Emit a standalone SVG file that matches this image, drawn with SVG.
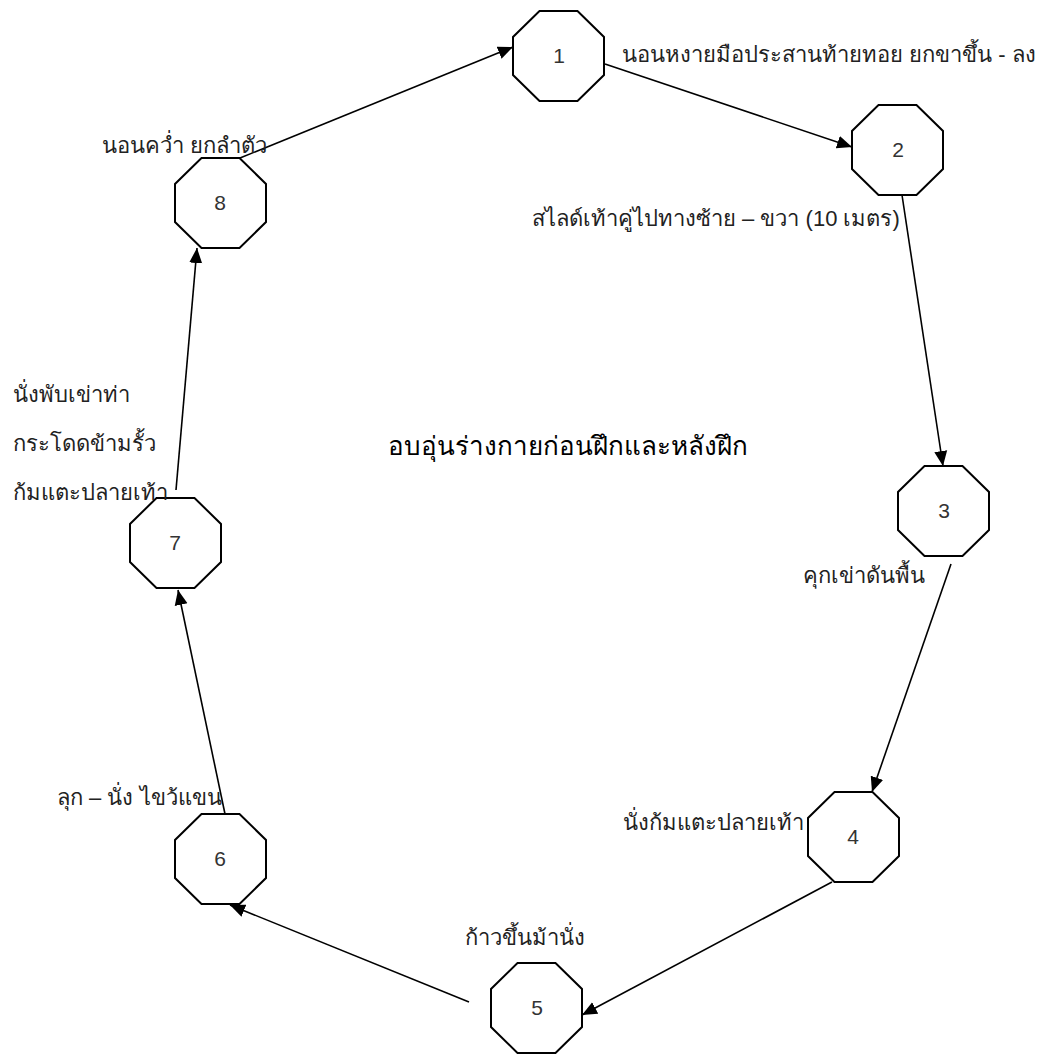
<svg xmlns="http://www.w3.org/2000/svg" width="1054" height="1055" viewBox="0 0 1054 1055">
<style>
.oct{fill:#fff;stroke:#000;stroke-width:2}
.num{font-family:'Liberation Sans',Arial,sans-serif;font-size:21px;fill:#333;text-anchor:middle}
.lbl{font-family:'Liberation Sans',Arial,sans-serif;font-size:22px;fill:#222}
.title{font-family:'Liberation Serif','Times New Roman',serif;font-size:26px;fill:#000}
.edge{stroke:#000;stroke-width:1.6;fill:none;marker-end:url(#arr)}
</style>
<defs>
<marker id="arr" markerUnits="userSpaceOnUse" markerWidth="16" markerHeight="14" refX="15" refY="7" orient="auto">
<path d="M0,0.5 L15,7 L0,13.5 Z" fill="#000"/>
</marker>
<polygon id="octshape" points="26.5,0 64.5,0 91,26 91,64 64.5,90 26.5,90 0,64 0,26"/>
</defs>
<rect width="1054" height="1055" fill="#fff"/>
<g id="connectors">
<line class="edge" x1="240" y1="158" x2="513" y2="47"/>
<line class="edge" x1="605" y1="64" x2="852" y2="147"/>
<line class="edge" x1="902" y1="195" x2="943" y2="466"/>
<line class="edge" x1="951" y1="564" x2="872" y2="792"/>
<line class="edge" x1="832" y1="882" x2="582" y2="1015"/>
<line class="edge" x1="469" y1="1002" x2="230" y2="905"/>
<line class="edge" x1="225" y1="814" x2="178" y2="590"/>
<line class="edge" x1="176" y1="490" x2="197" y2="248"/>
</g>
<g id="node1"><use href="#octshape" class="oct" x="513" y="11"/><text class="num" x="559" y="63">1</text></g>
<g id="node2"><use href="#octshape" class="oct" x="852" y="105"/><text class="num" x="898" y="157">2</text></g>
<g id="node3"><use href="#octshape" class="oct" x="898" y="466"/><text class="num" x="944" y="518">3</text></g>
<g id="node4"><use href="#octshape" class="oct" x="808" y="792"/><text class="num" x="853" y="844">4</text></g>
<g id="node5"><use href="#octshape" class="oct" x="491" y="963"/><text class="num" x="537" y="1015">5</text></g>
<g id="node6"><use href="#octshape" class="oct" x="175" y="814"/><text class="num" x="220" y="866">6</text></g>
<g id="node7"><use href="#octshape" class="oct" x="130" y="498"/><text class="num" x="175" y="550">7</text></g>
<g id="node8"><use href="#octshape" class="oct" x="175" y="158"/><text class="num" x="220" y="210">8</text></g>
<g id="labels">
<text class="lbl" x="622" y="62">นอนหงายมือประสานท้ายทอย ยกขาขึ้น - ลง</text>
<text class="lbl" x="532" y="226">สไลด์เท้าคู่ไปทางซ้าย – ขวา (10 เมตร)</text>
<text class="lbl" x="803" y="583">คุกเข่าดันพื้น</text>
<text class="lbl" x="623" y="830">นั่งก้มแตะปลายเท้า</text>
<text class="lbl" x="465" y="945">ก้าวขึ้นม้านั่ง</text>
<text class="lbl" x="57" y="805">ลุก – นั่ง ไขว้แขน</text>
<text class="lbl" x="13" y="402">นั่งพับเข่าท่า</text>
<text class="lbl" x="13" y="451">กระโดดข้ามรั้ว</text>
<text class="lbl" x="13" y="500">ก้มแตะปลายเท้า</text>
<text class="lbl" x="102" y="153">นอนคว่ำ ยกลำตัว</text>
<text class="title" x="388" y="455">อบอุ่นร่างกายก่อนฝึกและหลังฝึก</text>
</g>
</svg>
